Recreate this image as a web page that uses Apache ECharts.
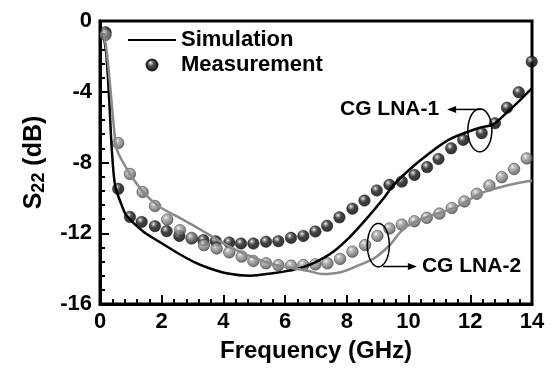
<!DOCTYPE html>
<html><head><meta charset="utf-8">
<script src="https://cdn.jsdelivr.net/npm/echarts@6/dist/echarts.min.js"></script>
<style>html,body{margin:0;padding:0;background:#fff}#c{width:555px;height:368px}</style>
</head><body><div id="c"></div>
<script>
// ---- data (frequency GHz, S22 dB) ----
const xTicks = [0, 2, 4, 6, 8, 10, 12, 14];
const yTicks = [-16, -12, -8, -4, 0];

const sim1X = [0.1, 0.2, 0.3, 0.38, 0.49, 0.7, 0.86, 1.4, 1.94, 2.5, 3.02, 3.5, 4.1, 4.86, 5.6, 6.26, 6.6, 7.02, 7.56, 8.1, 8.64, 9.18, 9.5, 10.05, 10.58, 11.34, 12.31, 12.75, 13.18, 13.6, 14.0];
const sim1Y = [-0.7, -1.8, -4.5, -7.2, -9.3, -10.4, -11.0, -11.9, -12.5, -13.1, -13.6, -13.95, -14.26, -14.4, -14.26, -14.07, -13.9, -13.6, -13.04, -12.2, -11.17, -10.05, -9.3, -8.37, -7.6, -6.68, -6.03, -5.84, -5.18, -4.5, -3.8];

const sim2X = [0.1, 0.2, 0.32, 0.45, 0.54, 0.75, 0.97, 1.4, 1.94, 2.5, 3.02, 3.5, 4.1, 4.6, 5.18, 5.7, 6.26, 6.8, 7.2, 7.8, 8.4, 8.9, 9.4, 9.7, 9.95, 10.6, 11.5, 12.4, 13.18, 14.0];
const sim2Y = [-0.7, -1.5, -3.5, -6.0, -7.24, -8.0, -8.65, -9.67, -10.52, -11.05, -11.55, -12.05, -12.67, -13.1, -13.51, -13.8, -13.98, -14.15, -14.3, -14.2, -13.8, -13.4, -12.65, -12.0, -11.6, -11.08, -10.55, -9.7, -9.3, -9.02];

const meas1X = [0.18, 0.59, 0.97, 1.35, 1.78, 2.16, 2.57, 2.97, 3.35, 3.75, 4.19, 4.57, 4.97, 5.38, 5.78, 6.19, 6.59, 6.98, 7.36, 7.76, 8.18, 8.57, 8.97, 9.38, 9.78, 10.19, 10.6, 10.97, 11.38, 11.77, 12.37, 12.8, 13.19, 13.57, 13.99];
const meas1Y = [-0.64, -9.49, -11.08, -11.36, -11.6, -11.88, -12.15, -12.3, -12.39, -12.45, -12.52, -12.58, -12.58, -12.48, -12.45, -12.26, -12.15, -11.9, -11.58, -11.1, -10.61, -10.15, -9.58, -9.26, -9.08, -8.7, -8.26, -7.8, -7.2, -6.72, -6.34, -5.78, -4.9, -4.03, -2.3];

const meas2X = [0.18, 0.59, 0.97, 1.38, 1.78, 2.18, 2.59, 2.97, 3.37, 3.78, 4.19, 4.59, 4.97, 5.38, 5.78, 6.19, 6.59, 6.98, 7.37, 7.78, 8.18, 8.59, 8.99, 9.38, 9.78, 10.19, 10.59, 11.0, 11.4, 11.81, 12.21, 12.62, 13.02, 13.42, 13.83];
const meas2Y = [-0.79, -6.9, -8.65, -9.67, -10.46, -11.23, -11.83, -12.26, -12.67, -12.86, -13.08, -13.32, -13.57, -13.7, -13.8, -13.83, -13.8, -13.76, -13.7, -13.45, -13.04, -12.67, -12.15, -11.73, -11.51, -11.32, -11.13, -10.89, -10.57, -10.2, -9.77, -9.3, -8.83, -8.37, -7.77];

const labels = { sim: 'Simulation', meas: 'Measurement', lna1: 'CG LNA-1', lna2: 'CG LNA-2', xName: 'Frequency (GHz)' };

// annotation anchors (data coords)
const lna1Ellipse = [12.31, -6.18];
const lna1ArrowFrom = [12.34, -5.0], lna1ArrowTo = [11.25, -5.0];
const lna2Ellipse = [9.02, -12.67];
const lna2ArrowFrom = [9.17, -13.88], lna2ArrowTo = [10.27, -13.88];

const zip = (xs, ys) => xs.map((x, i) => [x, ys[i]]);
const FONT = '"Liberation Sans", Arial, sans-serif';

const blackBall = { type: 'radial', x: 0.38, y: 0.33, r: 0.67, colorStops: [
  { offset: 0, color: '#ffffff' }, { offset: 0.16, color: '#8a8a8a' }, { offset: 0.45, color: '#141414' }, { offset: 1, color: '#000000' }] };
const grayBall = { type: 'radial', x: 0.38, y: 0.33, r: 0.67, colorStops: [
  { offset: 0, color: '#f4f4f4' }, { offset: 0.25, color: '#acacac' }, { offset: 0.7, color: '#727272' }, { offset: 1, color: '#4a4a4a' }] };

const chart = echarts.init(document.getElementById('c'), null, { renderer: 'canvas' });
const option = {
  animation: false,
  backgroundColor: '#fff',
  grid: { left: 100, top: 21, right: 23, bottom: 62, show: true, borderColor: '#000', borderWidth: 3, backgroundColor: 'transparent' },
  legend: {
    orient: 'vertical', left: 123, top: 24, itemWidth: 48, itemHeight: 11, itemGap: 3,
    textStyle: { fontFamily: FONT, fontWeight: 'bold', fontSize: 22, color: '#000', lineHeight: 22 },
    data: [{ name: labels.sim, icon: 'path://M0,0 L48,0 L48,2 L0,2 Z' }, { name: labels.meas, icon: 'circle' }]
  },
  xAxis: {
    type: 'value', min: xTicks[0], max: xTicks[xTicks.length - 1], interval: 2,
    name: labels.xName, nameLocation: 'middle', nameGap: 35,
    nameTextStyle: { fontFamily: FONT, fontWeight: 'bold', fontSize: 24, color: '#000' },
    axisLine: { show: true, onZero: false, lineStyle: { color: '#000', width: 3 } },
    axisTick: { show: true, inside: true, length: 9, lineStyle: { color: '#000', width: 2 } },
    minorTick: { show: true, splitNumber: 5, length: 5, lineStyle: { color: '#000', width: 2 } },
    splitLine: { show: false },
    axisLabel: { margin: 7, fontFamily: FONT, fontWeight: 'bold', fontSize: 22, color: '#000', formatter: v => String(v) }
  },
  yAxis: {
    type: 'value', min: yTicks[0], max: yTicks[yTicks.length - 1], interval: 4,
    name: '{a|S}{b|22}{a| (dB)}', nameLocation: 'middle', nameGap: 52, nameRotate: 90,
    nameTextStyle: { rich: {
      a: { fontFamily: FONT, fontWeight: 'bold', fontSize: 25, color: '#000' },
      b: { fontFamily: FONT, fontWeight: 'bold', fontSize: 18, color: '#000', verticalAlign: 'bottom', padding: [10, 0, 0, 0] } } },
    axisLine: { show: true, onZero: false, lineStyle: { color: '#000', width: 3 } },
    axisTick: { show: true, inside: true, length: 9, lineStyle: { color: '#000', width: 2 } },
    minorTick: { show: true, splitNumber: 5, length: 5, lineStyle: { color: '#000', width: 2 } },
    splitLine: { show: false },
    axisLabel: { margin: 8, fontFamily: FONT, fontWeight: 'bold', fontSize: 22, color: '#000', formatter: v => String(v) }
  },
  series: [
    { name: labels.meas, type: 'scatter', data: zip(meas1X, meas1Y), symbol: 'circle', symbolSize: 11.5, z: 3,
      itemStyle: { color: blackBall, borderColor: '#000', borderWidth: 0.5 } },
    { name: 'meas2', type: 'scatter', data: zip(meas2X, meas2Y), symbol: 'circle', symbolSize: 11.5, z: 3,
      itemStyle: { color: grayBall, borderColor: '#3a3a3a', borderWidth: 0.7 } },
    { name: labels.sim, type: 'line', data: zip(sim1X, sim1Y), showSymbol: false, smooth: 0.3, z: 4,
      color: '#000', lineStyle: { color: '#000', width: 2.5 } },
    { name: 'sim2', type: 'line', data: zip(sim2X, sim2Y), showSymbol: false, smooth: 0.3, z: 4,
      color: '#8a8a8a', lineStyle: { color: '#8a8a8a', width: 2.5 } }
  ]
};
chart.setOption(option);

function ellipsePts(c, rx, ry) {
  const pts = [];
  for (let i = 0; i <= 64; i++) { const t = i / 64 * Math.PI * 2; pts.push([c[0] + rx * Math.cos(t), c[1] + ry * Math.sin(t)]); }
  return pts;
}
function arrow(from, to) {
  const dx = to[0] - from[0], dy = to[1] - from[1], L = Math.hypot(dx, dy), ux = dx / L, uy = dy / L;
  const hl = 9, hw = 3.5;
  const base = [to[0] - ux * hl, to[1] - uy * hl];
  return [
    { type: 'line', shape: { x1: from[0], y1: from[1], x2: base[0], y2: base[1] }, style: { stroke: '#000', lineWidth: 1.5 }, z: 10 },
    { type: 'polygon', shape: { points: [to, [base[0] - uy * hw, base[1] + ux * hw], [base[0] + uy * hw, base[1] - ux * hw]] }, style: { fill: '#000' }, z: 10 }
  ];
}
const P = p => chart.convertToPixel({ gridIndex: 0 }, p);
const e1 = P(lna1Ellipse), e2 = P(lna2Ellipse);
const a1f = P(lna1ArrowFrom), a1t = P(lna1ArrowTo), a2f = P(lna2ArrowFrom), a2t = P(lna2ArrowTo);
const textStyle = { fontFamily: FONT, fontWeight: 'bold', fontSize: 21, fill: '#000' };
chart.setOption({ graphic: [
  { type: 'polyline', shape: { points: ellipsePts(e1, 12, 21.5) }, style: { stroke: '#000', lineWidth: 1.5, fill: null }, z: 10 },
  { type: 'polyline', shape: { points: ellipsePts(e2, 11, 21.7) }, style: { stroke: '#000', lineWidth: 1.5, fill: null }, z: 10 },
  ...arrow(a1f, a1t),
  ...arrow(a2f, a2t),
  { type: 'text', x: a1t[0] - 8, y: a1t[1], style: Object.assign({ text: labels.lna1, align: 'right', verticalAlign: 'middle' }, textStyle), z: 10 },
  { type: 'text', x: a2t[0] + 5, y: a2t[1], style: Object.assign({ text: labels.lna2, align: 'left', verticalAlign: 'middle' }, textStyle), z: 10 }
] });
</script></body></html>
